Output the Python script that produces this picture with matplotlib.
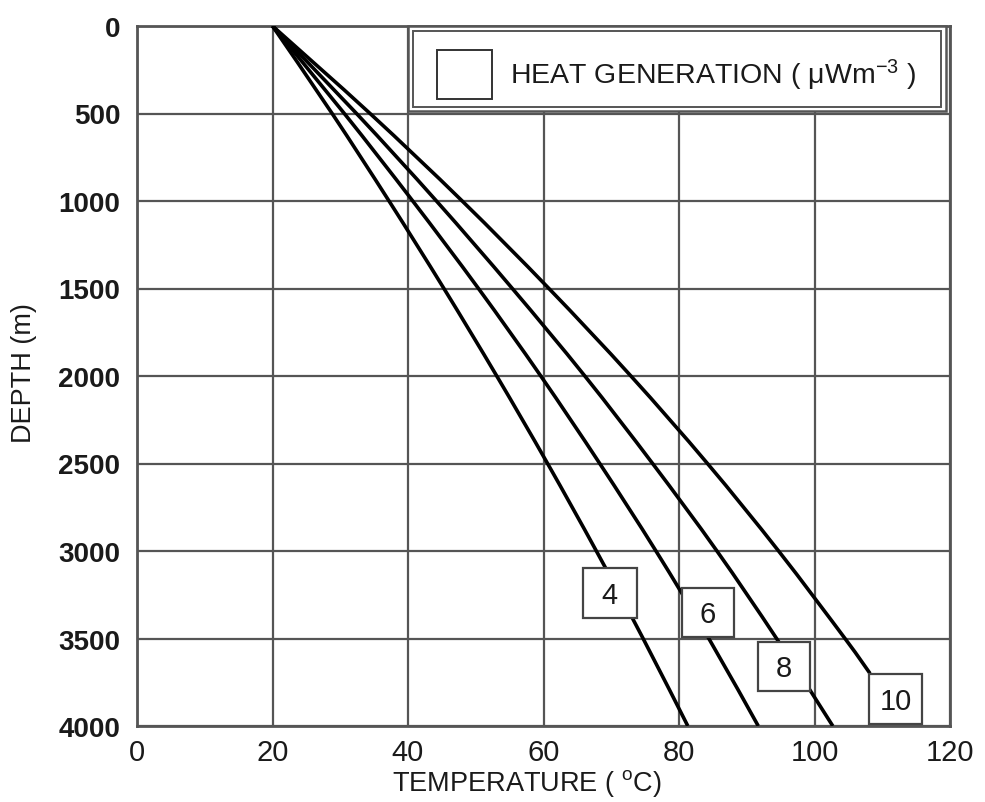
import matplotlib
matplotlib.use("Agg")
import numpy as np
import matplotlib.pyplot as plt
from matplotlib.patches import Rectangle, PathPatch
from matplotlib.path import Path

plt.rcParams['font.family'] = ['Liberation Sans', 'DejaVu Sans']
plt.rcParams['mathtext.fontset'] = 'custom'
plt.rcParams['mathtext.rm'] = 'Liberation Sans'
plt.rcParams['mathtext.it'] = 'Liberation Sans:italic'

# ---- data ----
depth_4 = [0, 500, 1000, 1500, 2000, 2500, 3000, 3500, 4000]
temp_4 = [20, 28.8, 37.2, 45.3, 53.1, 60.6, 67.8, 74.7, 81.3]

depth_6 = [0, 500, 1000, 1500, 2000, 2500, 3000, 3500, 4000]
temp_6 = [20, 30.6, 40.7, 50.4, 59.6, 68.3, 76.6, 84.4, 91.7]

depth_8 = [0, 500, 1000, 1500, 2000, 2500, 3000, 3500, 4000]
temp_8 = [20, 32.4, 44.2, 55.4, 66.1, 76.1, 85.6, 94.4, 102.7]

depth_10 = [0, 500, 1000, 1500, 2000, 2500, 3000, 3500, 3700]
temp_10 = [20, 34.4, 48.0, 60.8, 72.9, 84.2, 94.7, 104.5, 108.2]

curve_labels = ["4", "6", "8", "10"]
x_ticks = [0, 20, 40, 60, 80, 100, 120]
y_ticks = [0, 500, 1000, 1500, 2000, 2500, 3000, 3500, 4000]


def smooth_path(xs, ys):
    """Smooth (Catmull-Rom -> cubic Bezier) path through the data points."""
    p = np.column_stack([xs, ys]).astype(float)
    n = len(p)
    verts = [p[0]]
    codes = [Path.MOVETO]
    for i in range(n - 1):
        p0 = p[i - 1] if i > 0 else p[i]
        p1, p2 = p[i], p[i + 1]
        p3 = p[i + 2] if i + 2 < n else p[i + 1]
        verts += [p1 + (p2 - p0) / 6.0, p2 - (p3 - p1) / 6.0, p2]
        codes += [Path.CURVE4] * 3
    return Path(verts, codes)


# ---- figure ----
W, H = 985, 803
fig = plt.figure(figsize=(W / 100, H / 100), dpi=100)
ax = fig.add_axes([137 / W, 1 - 727 / H, 813 / W, 700 / H])

gray = '#555555'
txt = '#1a1a1a'
ax.set_xlim(0, 120)
ax.set_ylim(4000, 0)
ax.set_xticks(x_ticks)
ax.set_yticks(y_ticks)
ax.grid(True, color=gray, linewidth=1.6, zorder=1)
ax.set_axisbelow(True)
for s in ax.spines.values():
    s.set_color(gray)
    s.set_linewidth(2.0)
ax.tick_params(length=0, colors=txt)
ax.tick_params(axis='y', pad=12, labelsize=20)
ax.tick_params(axis='x', pad=9, labelsize=21)
for lbl in ax.get_yticklabels():
    lbl.set_fontweight('bold')

for t, d in [(temp_4, depth_4), (temp_6, depth_6), (temp_8, depth_8), (temp_10, depth_10)]:
    ax.add_patch(PathPatch(smooth_path(t, d), facecolor='none', edgecolor='black',
                           linewidth=2.6, zorder=3, capstyle='butt'))

# curve label boxes (x0, x1, d0, d1)
boxes = [(65.8, 73.8, 3097, 3383), (80.4, 88.1, 3211, 3491),
         (91.7, 99.3, 3520, 3800), (108.0, 115.9, 3703, 3989)]
for lab, (x0, x1, d0, d1) in zip(curve_labels, boxes):
    ax.add_patch(Rectangle((x0, d0), x1 - x0, d1 - d0, facecolor='white',
                           edgecolor='#444444', linewidth=1.6, zorder=5))
    ax.text((x0 + x1) / 2, (d0 + d1) / 2 + 10, lab, ha='center', va='center',
            fontsize=21, color=txt, zorder=6)

# legend box (double frame)
ax.add_patch(Rectangle((0.3333, 0.879), 0.995 - 0.3333, 1.0 - 0.879,
                       transform=ax.transAxes, facecolor='white',
                       edgecolor=gray, linewidth=1.8, zorder=5, clip_on=False))
ax.add_patch(Rectangle((0.3395, 0.884), 0.989 - 0.3395, 0.993 - 0.884,
                       transform=ax.transAxes, facecolor='white',
                       edgecolor=gray, linewidth=1.4, zorder=5, clip_on=False))
ax.add_patch(Rectangle((0.369, 0.8957), 0.4367 - 0.369, 0.9657 - 0.8957,
                       transform=ax.transAxes, facecolor='white',
                       edgecolor='#333333', linewidth=1.4, zorder=6))
ax.text(0.4588, 0.931, "HEAT GENERATION ( μWm$^{-3}$ )", transform=ax.transAxes,
        ha='left', va='center', fontsize=20.5, color=txt, zorder=7)

ax.set_xlim(0, 120)
ax.set_ylim(4000, 0)

# axis titles
fig.text(527 / W, 1 - 784 / H, "TEMPERATURE ( $^{\\mathrm{o}}$C)", ha='center',
         va='center', fontsize=19.5, color=txt)
fig.text(24 / W, 1 - 373 / H, "DEPTH (m)", ha='center', va='center',
         rotation=90, fontsize=19.5, color=txt)

fig.savefig("out.png", dpi=100, facecolor='white')
